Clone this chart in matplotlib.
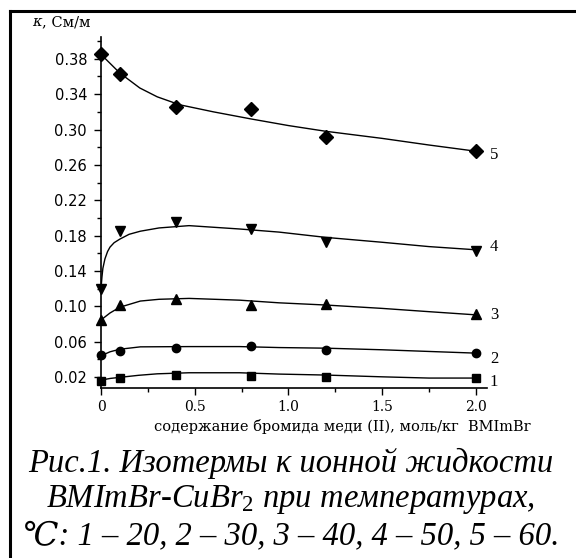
import matplotlib
matplotlib.use("Agg")
import matplotlib.pyplot as plt
from matplotlib.lines import Line2D
from matplotlib.ticker import MultipleLocator, FixedLocator

plt.rcParams["mathtext.fontset"] = "custom"
plt.rcParams["mathtext.rm"] = "Liberation Serif"
plt.rcParams["mathtext.it"] = "Liberation Serif:italic"

# measured points
x_pts = [0.0, 0.1, 0.4, 0.8, 1.2, 2.0]
s1 = [0.0155, 0.0192, 0.0226, 0.0210, 0.0203, 0.0189]
s2 = [0.0445, 0.0499, 0.0530, 0.0548, 0.0503, 0.0477]
s3 = [0.0846, 0.1010, 0.1080, 0.1015, 0.1025, 0.0910]
s4 = [0.1200, 0.1850, 0.1950, 0.1870, 0.1725, 0.1625]
s5 = [0.3850, 0.3630, 0.3255, 0.3236, 0.2913, 0.2755]

# fitted curves
c1_x = [0.0, 0.05, 0.1, 0.2, 0.3, 0.47, 0.74, 0.95, 1.2, 1.5, 1.75, 2.0]
c1_y = [0.0166, 0.0185, 0.0197, 0.0220, 0.0237, 0.0249, 0.0249, 0.0234, 0.0223, 0.0203, 0.0189, 0.0189]
c2_x = [0.0, 0.048, 0.1, 0.21, 0.47, 0.74, 0.95, 1.2, 1.5, 1.75, 2.0]
c2_y = [0.0441, 0.0486, 0.0515, 0.0542, 0.0545, 0.0545, 0.0534, 0.0527, 0.0509, 0.0490, 0.0471]
c3_x = [0.0, 0.048, 0.1, 0.21, 0.31, 0.47, 0.74, 0.95, 1.2, 1.5, 1.75, 2.0]
c3_y = [0.0846, 0.0925, 0.0990, 0.1060, 0.1080, 0.1090, 0.1070, 0.1040, 0.1015, 0.0977, 0.0940, 0.0904]
c4_x = [0.0, 0.005, 0.01, 0.021, 0.035, 0.048, 0.07, 0.1, 0.15, 0.21, 0.31, 0.47, 0.74, 0.95, 1.2, 1.5, 1.75, 2.0]
c4_y = [0.1200, 0.1330, 0.1430, 0.1537, 0.1620, 0.1670, 0.1720, 0.1760, 0.1815, 0.1850, 0.1887, 0.1913, 0.1875, 0.1840, 0.1780, 0.1725, 0.1676, 0.1640]
c5_x = [0.0, 0.1, 0.207, 0.3, 0.42, 0.6, 0.8, 1.0, 1.2, 1.5, 1.75, 2.0]
c5_y = [0.3850, 0.3640, 0.3470, 0.3370, 0.3280, 0.3200, 0.3120, 0.3045, 0.2980, 0.2900, 0.2825, 0.2755]

series_labels = ["1", "2", "3", "4", "5"]
y_ticks = [0.02, 0.06, 0.10, 0.14, 0.18, 0.22, 0.26, 0.30, 0.34, 0.38]
x_ticks = [0, 0.5, 1.0, 1.5, 2.0]
x_tick_labels = ["0", "0.5", "1.0", "1.5", "2.0"]

fig = plt.figure(figsize=(5.76, 5.58), dpi=100)
ax = fig.add_axes([101/576, 1-387.7/558, (487-101)/576, (387.7-36.7)/558])

markers = ["s", "o", "^", "v", "D"]
msizes = [5.5, 6, 7, 7, 7]
curves = [(c1_x, c1_y), (c2_x, c2_y), (c3_x, c3_y), (c4_x, c4_y), (c5_x, c5_y)]
pts = [s1, s2, s3, s4, s5]
for (cx, cy), sy, m, ms in zip(curves, pts, markers, msizes):
    ax.plot(cx, cy, color="black", lw=1.0, clip_on=False)
    ax.plot(x_pts, sy, linestyle="none", marker=m, markersize=ms, color="black", clip_on=False, zorder=5)

ax.set_xlim(0, 2.06)
ax.set_ylim(0.008, 0.405)
for s in ["top", "right"]:
    ax.spines[s].set_visible(False)
ax.spines["left"].set_linewidth(1.2)
ax.spines["bottom"].set_linewidth(1.2)

ax.yaxis.set_major_locator(FixedLocator(y_ticks))
ax.yaxis.set_minor_locator(MultipleLocator(0.02))
ax.xaxis.set_major_locator(FixedLocator(x_ticks))
ax.xaxis.set_minor_locator(MultipleLocator(0.25))
ax.set_xticklabels(x_tick_labels, fontfamily="DejaVu Serif", fontsize=10)
ax.set_yticklabels(["%.2f" % v for v in y_ticks], fontfamily="DejaVu Sans", fontsize=10.5)
ax.tick_params(axis="both", which="major", direction="out", length=5, width=1)
ax.tick_params(axis="both", which="minor", direction="out", length=3, width=1)
ax.tick_params(axis="y", which="major", pad=5)
ax.tick_params(axis="x", which="major", pad=4)

# series labels at right
label_y = [0.0143, 0.0404, 0.0902, 0.1676, 0.2714]
for lab, ly in zip(series_labels, label_y):
    ax.text(2.075, ly, lab, fontfamily="Liberation Serif", fontsize=12, va="center", ha="left",
            transform=ax.transData, clip_on=False)

fig.text(32/576, 1-22/558, "κ", fontfamily="DejaVu Serif", style="italic", fontsize=10.5, va="center", ha="left")
fig.text(42/576, 1-22/558, ", См/м", fontfamily="DejaVu Serif", fontsize=10.5, va="center", ha="left")
fig.text(342/576, 1-427/558, "содержание бромида меди (II), моль/кг  BMImBr",
         fontfamily="DejaVu Serif", fontsize=10.5, va="center", ha="center")

cap_kw = dict(fontfamily=["Liberation Serif", "DejaVu Serif"], style="italic", fontsize=23.5,
              ha="center", va="center")
fig.text(291/576, 1-463/558, "Рис.1. Изотермы κ ионной жидкости", **cap_kw)
fig.text(291/576, 1-500/558, "BMImBr-CuBr$_\\mathit{2}$ при температурах,", **cap_kw)
fig.text(291/576, 1-536/558, "℃: 1 – 20, 2 – 30, 3 – 40, 4 – 50, 5 – 60.", **cap_kw)

# frame lines (top and left)
fig.add_artist(Line2D([9.5/576, 1.0], [1-10.5/558, 1-10.5/558], color="black", lw=2.2, transform=fig.transFigure))
fig.add_artist(Line2D([9.5/576, 9.5/576], [0.0, 1-10.5/558], color="black", lw=2.2, transform=fig.transFigure))

fig.savefig("out.png", dpi=100, facecolor="white")
